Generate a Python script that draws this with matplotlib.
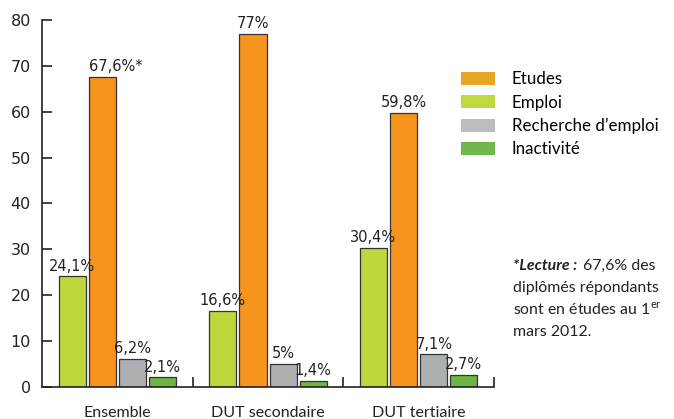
import matplotlib.pyplot as plt
import numpy as np
from matplotlib.patches import Patch

groups = ["Ensemble", "DUT secondaire", "DUT tertiaire"]
series = ["Emploi", "Etudes", "Recherche d\u2019emploi", "Inactivit\u00e9"]
emploi = [24.1, 16.6, 30.4]
etudes = [67.6, 77, 59.8]
recherche = [6.2, 5, 7.1]
inactivite = [2.1, 1.4, 2.7]
labels_emploi = ["24,1%", "16,6%", "30,4%"]
labels_etudes = ["67,6%*", "77%", "59,8%"]
labels_recherche = ["6,2%", "5%", "7,1%"]
labels_inactivite = ["2,1%", "1,4%", "2,7%"]

bar_colors = ["#BFD73B", "#F7941E", "#AEAFB2", "#6CB545"]
# legend lists Etudes first, with slightly different swatch colours
legend_labels = ["Etudes", "Emploi", "Recherche d\u2019emploi", "Inactivit\u00e9"]
legend_colors = ["#E7A521", "#C1D93F", "#BDBDBD", "#71B74B"]

fig = plt.figure(figsize=(6.74, 4.19), dpi=100)
ax = fig.add_axes([0.0623, 0.0764, 0.6707, 0.8759])

x = np.arange(len(groups))
width = 0.18
step = 0.2
values = [emploi, etudes, recherche, inactivite]
texts = [labels_emploi, labels_etudes, labels_recherche, labels_inactivite]
for i, (vals, labs) in enumerate(zip(values, texts)):
    pos = x + (i - 1.5) * step
    bars = ax.bar(pos, vals, width, color=bar_colors[i], edgecolor="#333333", linewidth=0.9)
    for b, lab in zip(bars, labs):
        ha = "left" if lab.endswith("*") else "center"
        xx = b.get_x() if ha == "left" else b.get_x() + b.get_width() / 2
        ax.annotate(lab, (xx, b.get_height()), xytext=(0, 2), textcoords="offset points",
                    ha=ha, va="bottom", fontsize=10.5, color="#222222", family="DejaVu Sans")

ax.set_xlim(-0.5, 2.5)
ax.set_ylim(0, 80)
ax.set_yticks(range(0, 81, 10))
ax.set_xticks(x)
ax.set_xticklabels(groups, fontsize=11.5, family="Lato", color="#222222")
ax.set_xticks([0.5, 1.5, 2.5], minor=True)
ax.tick_params(axis="x", which="major", length=0, pad=14)
ax.tick_params(axis="x", which="minor", direction="in", length=7, width=1.2, color="#222222")
ax.tick_params(axis="y", direction="in", length=7, width=1.2, color="#222222", labelsize=11.5, labelcolor="#222222", pad=8)
for s in ["top", "right"]:
    ax.spines[s].set_visible(False)
for s in ["left", "bottom"]:
    ax.spines[s].set_linewidth(1.2)
    ax.spines[s].set_color("#222222")

handles = [Patch(facecolor=c, edgecolor="none") for c in legend_colors]
fig.legend(handles, legend_labels, loc="upper left",
           bbox_to_anchor=(0.661, 0.866), frameon=False, prop={"family": "Lato", "size": 12.2},
           handlelength=2.0, handleheight=0.8, labelspacing=0.42, handletextpad=1.0)

fs = 11.4
t1 = fig.text(0.761, 0.349, "*Lecture :", fontsize=fs, family="Lato", weight="bold",
              style="italic", color="#222222", va="bottom")
ax.annotate("67,6% des", xy=(1, 0), xycoords=t1, xytext=(4, 0), textcoords="offset points",
            fontsize=fs, family="Lato", color="#222222", va="bottom", ha="left", annotation_clip=False)
fig.text(0.761, 0.296, "dipl\u00f4m\u00e9s r\u00e9pondants", fontsize=fs, family="Lato", color="#222222", va="bottom")
fig.text(0.761, 0.243, "sont en \u00e9tudes au 1$^{\\mathregular{er}}$", fontsize=fs, family="Lato", color="#222222", va="bottom")
fig.text(0.761, 0.190, "mars 2012.", fontsize=fs, family="Lato", color="#222222", va="bottom")

fig.savefig("out.png", dpi=100)
